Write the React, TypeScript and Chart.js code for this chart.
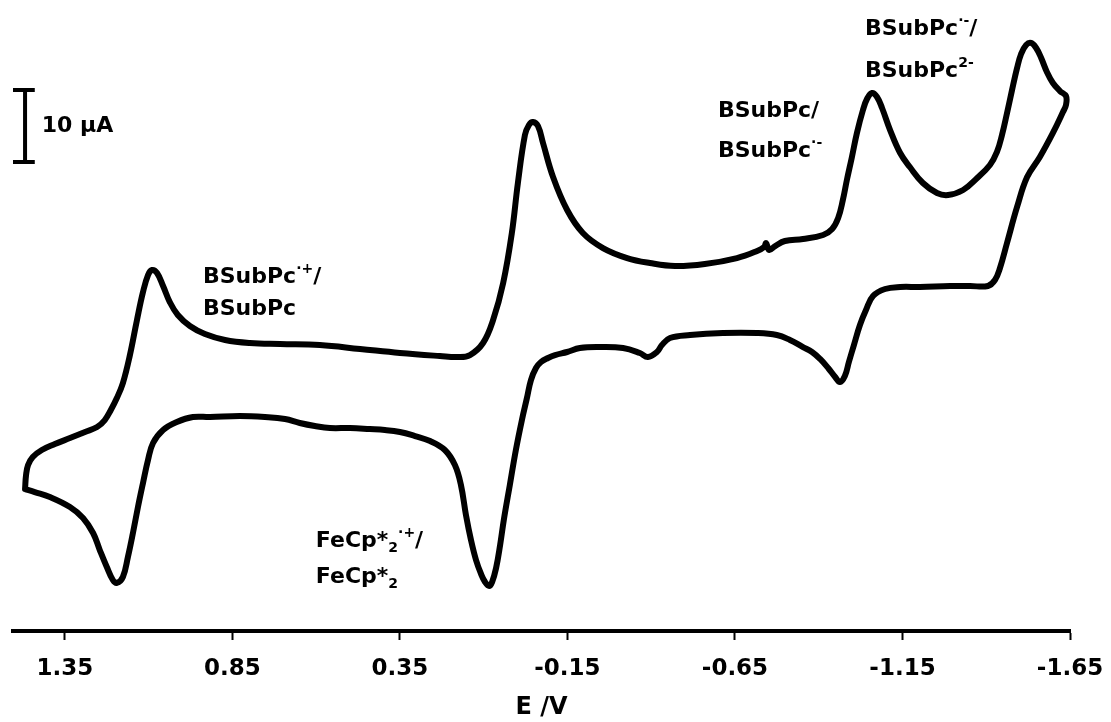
import { useEffect, useRef } from 'react';
import { Chart, registerables } from 'chart.js';

Chart.register(...registerables);

const FONT = '"DejaVu Sans", "Verdana", sans-serif';

// Axis
const X_TICKS = [1.35, 0.85, 0.35, -0.15, -0.65, -1.15, -1.65];
const E_MIN = -1.65;
const E_MAX = 1.505;
const I_MIN = -34.86;
const I_MAX = 52.78;

// Forward (cathodic) sweep: potential (V) and current (µA)
const FORWARD_E = [
  1.469, 1.466, 1.46, 1.446, 1.419, 1.38, 1.335, 1.29, 1.254, 1.231,
  1.213, 1.195, 1.177, 1.156, 1.135, 1.117, 1.102, 1.09, 1.075, 1.057,
  1.037, 1.013, 0.977, 0.932, 0.872, 0.798, 0.708, 0.589, 0.469, 0.35,
  0.231, 0.177, 0.141, 0.102, 0.072, 0.042, 0.016, -0.002, -0.023, -0.035,
  -0.047, -0.062, -0.077, -0.107, -0.149, -0.196, -0.256, -0.328, -0.396, -0.471,
  -0.56, -0.656, -0.716, -0.737, -0.743, -0.752, -0.77, -0.799, -0.853, -0.913,
  -0.94, -0.958, -0.972, -0.984, -0.999, -1.014, -1.032, -1.044, -1.059, -1.074,
  -1.089, -1.113, -1.143, -1.172, -1.211, -1.253, -1.286, -1.331, -1.373, -1.411,
  -1.432, -1.447, -1.462, -1.477, -1.492, -1.504, -1.519, -1.534, -1.549, -1.564,
  -1.581, -1.599, -1.62, -1.638,
];
const FORWARD_I = [
  -15.14, -13.19, -11.81, -10.69, -9.72, -8.89, -8.06, -7.22, -6.53, -5.56,
  -4.17, -2.5, -0.42, 3.47, 8.33, 12.22, 14.58, 15.28, 14.86, 13.06,
  10.83, 9.03, 7.5, 6.39, 5.56, 5.14, 5.0, 4.86, 4.31, 3.75,
  3.33, 3.19, 3.47, 5.14, 8.33, 13.47, 20.42, 27.36, 34.03, 35.42,
  35.83, 35.28, 32.92, 28.19, 23.61, 20.42, 18.33, 16.94, 16.25, 15.83,
  16.11, 16.94, 17.92, 18.47, 19.03, 18.06, 18.61, 19.31, 19.58, 20.14,
  20.97, 22.5, 25.0, 27.78, 30.97, 34.31, 37.5, 39.03, 39.86, 39.31,
  37.78, 34.72, 31.53, 29.58, 27.36, 25.97, 25.69, 26.39, 28.06, 29.86,
  31.67, 34.03, 37.08, 40.28, 43.33, 45.28, 46.53, 46.81, 46.11, 44.72,
  42.78, 41.25, 40.14, 39.44,
];

// Reverse (anodic) sweep
const REVERSE_E = [
  -1.638, -1.629, -1.599, -1.56, -1.522, -1.492, -1.462, -1.441, -1.426, -1.405,
  -1.352, -1.292, -1.202, -1.143, -1.098, -1.062, -1.041, -1.023, -1.005, -0.99,
  -0.978, -0.963, -0.949, -0.928, -0.904, -0.88, -0.853, -0.814, -0.775, -0.716,
  -0.614, -0.516, -0.456, -0.432, -0.417, -0.39, -0.366, -0.316, -0.247, -0.187,
  -0.149, -0.113, -0.092, -0.071, -0.056, -0.041, -0.029, -0.014, 0.004, 0.022,
  0.04, 0.051, 0.063, 0.075, 0.084, 0.096, 0.108, 0.123, 0.138, 0.153,
  0.168, 0.186, 0.216, 0.26, 0.305, 0.35, 0.395, 0.44, 0.499, 0.559,
  0.604, 0.649, 0.693, 0.753, 0.828, 0.917, 0.968, 1.016, 1.057, 1.087,
  1.102, 1.117, 1.132, 1.147, 1.162, 1.177, 1.195, 1.207, 1.225, 1.246,
  1.266, 1.296, 1.335, 1.395, 1.44, 1.469,
];
const REVERSE_I = [
  38.19, 37.22, 34.31, 30.97, 28.19, 24.03, 19.03, 15.56, 13.89, 13.06,
  13.06, 13.06, 12.92, 12.92, 12.64, 11.67, 9.72, 7.64, 4.86, 2.5,
  0.56, -0.28, 0.42, 1.67, 2.92, 3.89, 4.58, 5.56, 6.25, 6.53,
  6.53, 6.25, 5.83, 4.86, 3.89, 3.19, 3.75, 4.44, 4.58, 4.44,
  3.89, 3.47, 3.06, 2.5, 1.67, 0.0, -2.5, -5.56, -9.72, -14.58,
  -19.44, -22.92, -26.11, -28.06, -28.61, -28.06, -26.94, -25.0, -22.22, -18.75,
  -14.58, -11.81, -9.72, -8.47, -7.78, -7.22, -6.94, -6.81, -6.67, -6.67,
  -6.39, -5.97, -5.42, -5.14, -5.0, -5.14, -5.14, -5.83, -6.94, -8.75,
  -11.11, -14.31, -17.64, -21.25, -24.58, -27.36, -28.19, -27.78, -25.97, -23.61,
  -21.25, -19.17, -17.64, -16.25, -15.56, -15.14,
];

// Annotations: [text, style] parts, anchored at (E, i) baseline-left
type Part = [string, 'n' | 'sup' | 'sub'];
const LABELS: { e: number; i: number; parts: Part[] }[] = [
  { e: 0.938, i: 13.47, parts: [['BSubPc', 'n'], ['·+', 'sup'], ['/', 'n']] },
  { e: 0.938, i: 9.03, parts: [['BSubPc', 'n']] },
  { e: -0.599, i: 36.53, parts: [['BSubPc/', 'n']] },
  { e: -0.599, i: 30.97, parts: [['BSubPc', 'n'], ['·-', 'sup']] },
  { e: -1.038, i: 47.92, parts: [['BSubPc', 'n'], ['·-', 'sup'], ['/', 'n']] },
  { e: -1.038, i: 42.08, parts: [['BSubPc', 'n'], ['2-', 'sup']] },
  { e: 0.601, i: -23.19, parts: [['FeCp*', 'n'], ['2', 'sub'], ['·+', 'sup'], ['/', 'n']] },
  { e: 0.601, i: -28.19, parts: [['FeCp*', 'n'], ['2', 'sub']] },
];

// Scale bar (10 µA)
const BAR_E = 1.469;
const BAR_E_LEFT = 1.505;
const BAR_E_RIGHT = 1.44;
const BAR_I_LOW = 30.28;
const BAR_I_HIGH = 40.28;
const BAR_TEXT = '10 µA';
const BAR_TEXT_E = 1.419;
const BAR_TEXT_I = 34.44;

const annotationPlugin = {
  id: 'cvAnnotations',
  afterDatasetsDraw(chart: any) {
    const { ctx } = chart;
    const xs = chart.scales.x;
    const ys = chart.scales.y;
    ctx.save();
    ctx.fillStyle = '#000';
    ctx.strokeStyle = '#000';
    ctx.textBaseline = 'alphabetic';
    ctx.textAlign = 'left';
    for (const lab of LABELS) {
      let x = xs.getPixelForValue(lab.e);
      const y = ys.getPixelForValue(lab.i);
      for (const [t, s] of lab.parts) {
        if (s === 'n') {
          ctx.font = `bold 22px ${FONT}`;
          ctx.fillText(t, x, y);
        } else if (s === 'sup') {
          ctx.font = `bold 14px ${FONT}`;
          ctx.fillText(t, x, y - 10);
        } else {
          ctx.font = `bold 14px ${FONT}`;
          ctx.fillText(t, x, y + 5);
        }
        x += ctx.measureText(t).width;
      }
    }
    // scale bar
    const bx = xs.getPixelForValue(BAR_E);
    const bl = xs.getPixelForValue(BAR_E_LEFT);
    const br = xs.getPixelForValue(BAR_E_RIGHT);
    const bt = ys.getPixelForValue(BAR_I_HIGH);
    const bb = ys.getPixelForValue(BAR_I_LOW);
    ctx.lineWidth = 4;
    ctx.lineCap = 'butt';
    ctx.beginPath();
    ctx.moveTo(bx, bt);
    ctx.lineTo(bx, bb);
    ctx.moveTo(bl, bt);
    ctx.lineTo(br, bt);
    ctx.moveTo(bl, bb);
    ctx.lineTo(br, bb);
    ctx.stroke();
    ctx.font = `bold 22px ${FONT}`;
    ctx.fillText(BAR_TEXT, xs.getPixelForValue(BAR_TEXT_E), ys.getPixelForValue(BAR_TEXT_I));
    ctx.restore();
  },
};

export default function App() {
  const ref = useRef<HTMLCanvasElement | null>(null);
  useEffect(() => {
    if (!ref.current) return;
    const points = [
      ...FORWARD_E.map((e, k) => ({ x: e, y: FORWARD_I[k] })),
      ...REVERSE_E.map((e, k) => ({ x: e, y: REVERSE_I[k] })),
    ];
    const chart = new Chart(ref.current, {
      type: 'scatter',
      data: {
        datasets: [
          {
            data: points,
            showLine: true,
            borderColor: '#000',
            borderWidth: 6,
            pointRadius: 0,
            tension: 0.4,
            fill: false,
            borderJoinStyle: 'round',
            borderCapStyle: 'round',
          } as any,
        ],
      },
      options: {
        animation: false,
        responsive: false,
        layout: { padding: { left: 13, right: 41, top: 0, bottom: 0 } },
        plugins: { legend: { display: false }, tooltip: { enabled: false } },
        scales: {
          x: {
            type: 'linear',
            reverse: true,
            min: E_MIN,
            max: E_MAX,
            afterBuildTicks: (s: any) => {
              s.ticks = X_TICKS.map((v) => ({ value: v }));
            },
            afterFit: (s: any) => {
              s.height = 91;
              s.paddingLeft = 0;
              s.paddingRight = 0;
            },
            ticks: {
              callback: (v: any) => Number(v).toFixed(2),
              font: { family: FONT, size: 23, weight: 'bold' },
              color: '#000',
              padding: 15,
              maxRotation: 0,
              autoSkip: false,
            },
            grid: {
              drawOnChartArea: false,
              drawTicks: true,
              tickLength: 9,
              tickWidth: 2,
              tickColor: '#000',
            },
            border: { display: true, width: 4, color: '#000' },
            title: {
              display: true,
              text: 'E /V',
              font: { family: FONT, size: 24, weight: 'bold' },
              color: '#000',
              padding: 0,
            },
          },
          y: { display: false, min: I_MIN, max: I_MAX },
        },
      } as any,
      plugins: [annotationPlugin],
    });
    return () => chart.destroy();
  }, []);
  return (
    <canvas
      ref={ref}
      width={1111}
      height={722}
      style={{ position: 'absolute', left: 0, top: 0, background: '#fff' }}
    />
  );
}
